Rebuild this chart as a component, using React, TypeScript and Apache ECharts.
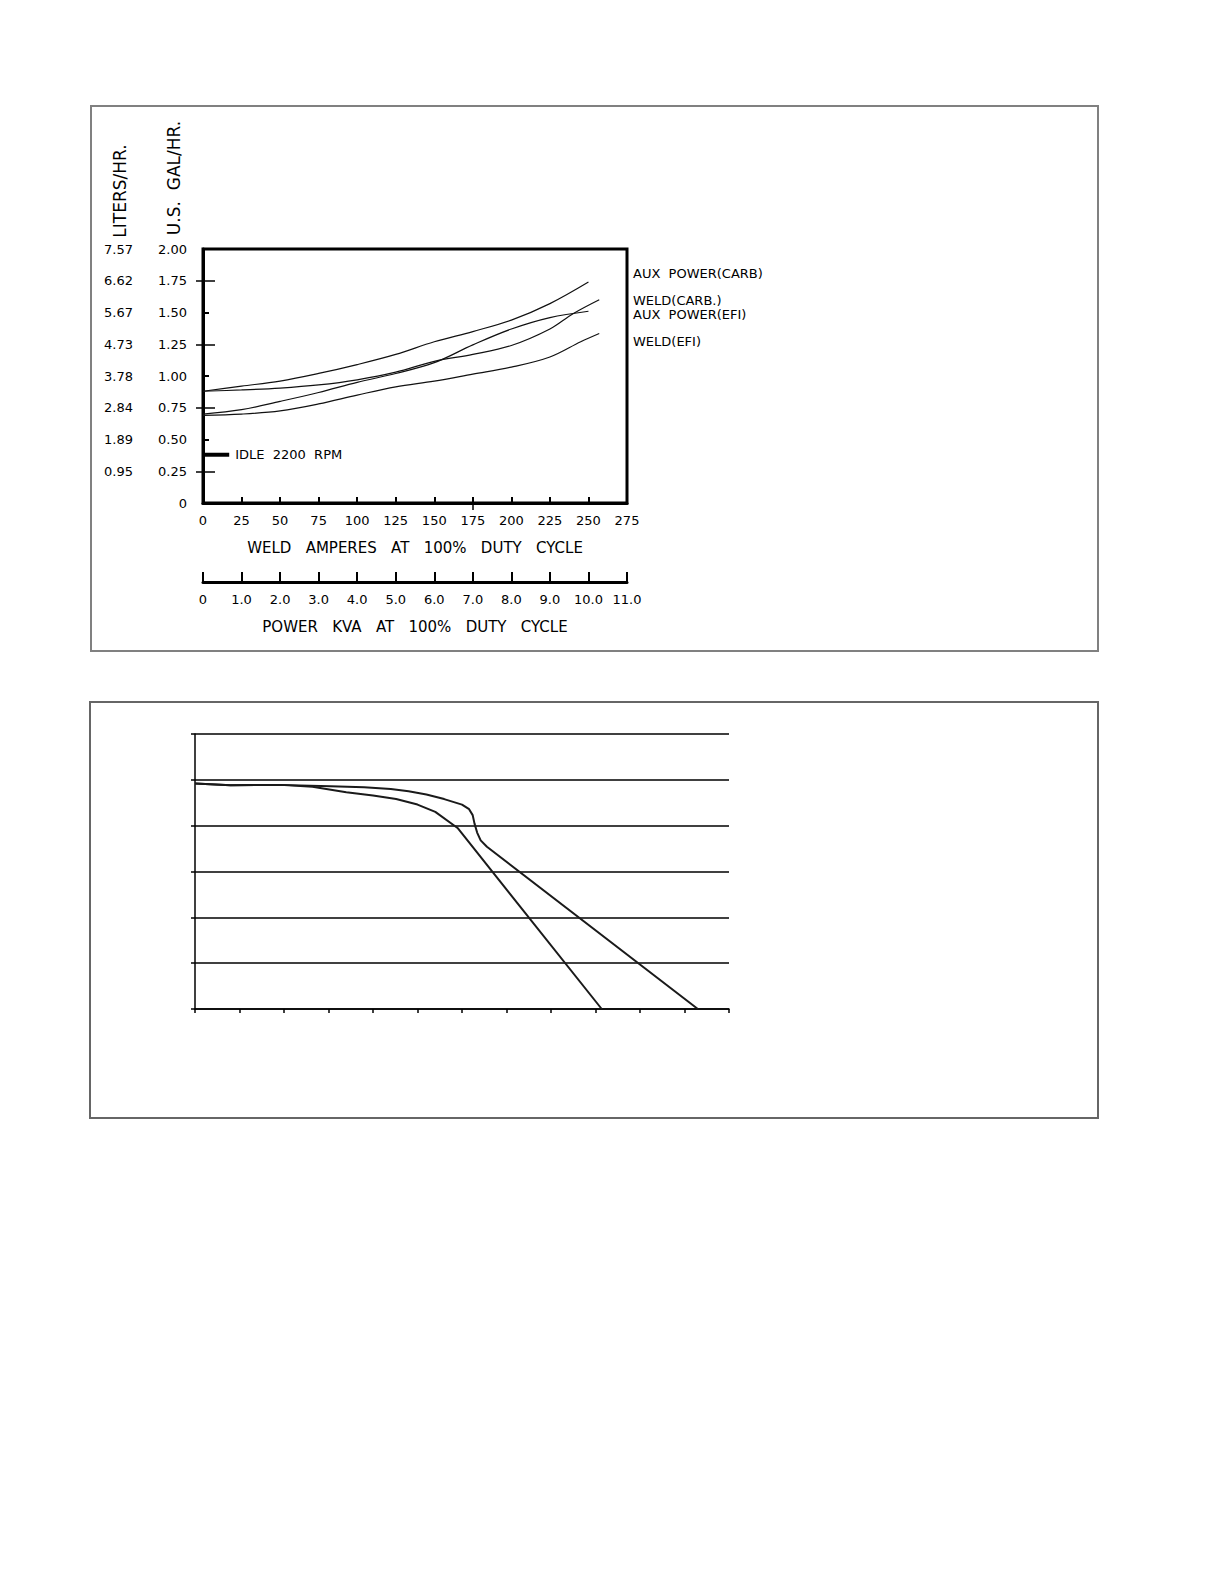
import * as echarts from "echarts";
import { useEffect, useRef } from "react";

const FONT = "'DejaVu Sans', sans-serif";
const GAP2 = "\u00a0\u00a0";
const GAP3 = "\u00a0\u00a0\u00a0";

// fuel consumption, US gal/hr against weld amperes
const auxCarbAmps = [0, 25, 50, 75, 100, 125, 150, 175, 200, 225, 250];
const auxCarbGal = [0.88, 0.92, 0.96, 1.02, 1.09, 1.17, 1.27, 1.35, 1.44, 1.57, 1.74];

const weldCarbAmps = [0, 25, 50, 75, 100, 125, 150, 175, 200, 225, 240, 257];
const weldCarbGal = [0.88, 0.89, 0.905, 0.93, 0.97, 1.03, 1.115, 1.17, 1.24, 1.37, 1.49, 1.6];

const auxEfiAmps = [0, 25, 50, 75, 100, 125, 150, 175, 200, 225, 250];
const auxEfiGal = [0.7, 0.735, 0.8, 0.87, 0.95, 1.02, 1.105, 1.245, 1.37, 1.46, 1.51];

const weldEfiAmps = [0, 25, 50, 75, 100, 125, 150, 175, 200, 225, 245, 257];
const weldEfiGal = [0.69, 0.7, 0.725, 0.78, 0.85, 0.915, 0.96, 1.015, 1.07, 1.15, 1.27, 1.335];

const idleAmps = [0, 17];
const idleGal = [0.38, 0.38];

const galTickLabels = ["0", "0.25", "0.50", "0.75", "1.00", "1.25", "1.50", "1.75", "2.00"];
const literTickLabels = ["", "0.95", "1.89", "2.84", "3.78", "4.73", "5.67", "6.62", "7.57"];
const kvaTickLabels = ["0", "1.0", "2.0", "3.0", "4.0", "5.0", "6.0", "7.0", "8.0", "9.0", "10.0", "11.0"];

const legendNames = ["AUX" + GAP2 + "POWER(CARB)", "WELD(CARB.)", "AUX" + GAP2 + "POWER(EFI)", "WELD(EFI)"];
const legendY = [273, 300, 314.5, 341.5];

// volt-amp curves of the lower panel (unlabelled axes)
const outerAmps = [0, 20, 48, 76, 95, 110, 120, 130, 140, 150, 154, 156, 157, 158.5, 160.5, 164, 282.5];
const outerVolts = [49.2, 48.8, 48.9, 48.6, 48.4, 48.0, 47.5, 46.8, 45.8, 44.6, 43.6, 42.3, 40.5, 38.5, 36.8, 35.4, 0];

const innerAmps = [0, 20, 48, 66, 85, 100, 113, 125, 135, 147.5, 228.5];
const innerVolts = [49.2, 48.8, 48.9, 48.5, 47.3, 46.6, 45.8, 44.6, 43.0, 39.5, 0];

const zip = (xs: number[], ys: number[]) => xs.map((x, i) => [x, ys[i]]);

export default function App() {
	const chartRef = useRef<HTMLDivElement>(null);

	useEffect(() => {
		if (!chartRef.current) return;
		const chart = echarts.init(chartRef.current, undefined, { renderer: "svg" });

		const text = (size: number) => ({ color: "#000", fontFamily: FONT, fontSize: size });
		const fuelLine = (name: string, xs: number[], ys: number[]) => ({
			name,
			type: "line",
			xAxisIndex: 0,
			yAxisIndex: 0,
			data: zip(xs, ys),
			smooth: 0.35,
			showSymbol: false,
			lineStyle: { color: "#111", width: 1.2 }
		});
		const vaLine = (xs: number[], ys: number[]) => ({
			type: "line",
			xAxisIndex: 3,
			yAxisIndex: 3,
			data: zip(xs, ys),
			showSymbol: false,
			lineStyle: { color: "#1a1a1a", width: 2 }
		});

		const option: echarts.EChartsOption = {
			animation: false,
			backgroundColor: "#fff",
			grid: [
				{ left: 203, top: 249, width: 424, height: 254, show: true, borderColor: "#000", borderWidth: 3 },
				{ left: 195, top: 734, width: 534, height: 275 }
			],
			xAxis: [
				{
					type: "value",
					gridIndex: 0,
					position: "bottom",
					min: 0,
					max: 275,
					interval: 25,
					axisLine: { onZero: false, lineStyle: { color: "#000", width: 3 } },
					axisTick: { inside: true, length: 6, lineStyle: { color: "#000", width: 2 } },
					axisLabel: { ...text(13), margin: 11 },
					splitLine: { show: false },
					name: ["WELD", "AMPERES", "AT", "100%", "DUTY", "CYCLE"].join(GAP3),
					nameLocation: "middle",
					nameGap: 37,
					nameTextStyle: text(15)
				},
				{
					type: "value",
					gridIndex: 0,
					position: "bottom",
					offset: 79,
					min: 0,
					max: 11,
					interval: 1,
					axisLine: { onZero: false, lineStyle: { color: "#000", width: 3 } },
					axisTick: { inside: true, length: 10, lineStyle: { color: "#000", width: 2 } },
					axisLabel: { ...text(13), margin: 11, formatter: (v: number) => kvaTickLabels[Math.round(v)] ?? "" },
					splitLine: { show: false },
					name: ["POWER", "KVA", "AT", "100%", "DUTY", "CYCLE"].join(GAP3),
					nameLocation: "middle",
					nameGap: 37,
					nameTextStyle: text(15)
				},
				{
					type: "value",
					gridIndex: 0,
					position: "bottom",
					min: 0,
					max: 275,
					interval: 25,
					axisLine: { show: false, onZero: false },
					axisTick: { length: 7, customValues: [175], lineStyle: { color: "#000", width: 1.5 } },
					axisLabel: { show: false },
					splitLine: { show: false }
				},
				{
					type: "value",
					gridIndex: 1,
					position: "bottom",
					min: 0,
					max: 300,
					interval: 25,
					axisLine: { onZero: false, lineStyle: { color: "#000", width: 1.5 } },
					axisTick: { length: 4, lineStyle: { color: "#000", width: 1.5 } },
					axisLabel: { show: false },
					splitLine: { show: false }
				}
			],
			yAxis: [
				{
					type: "value",
					gridIndex: 0,
					position: "left",
					min: 0,
					max: 2,
					interval: 0.25,
					axisLine: { show: true, lineStyle: { color: "#000", width: 3 } },
					axisTick: { show: true, inside: true, length: 6, customValues: [0.5, 1, 1.5], lineStyle: { color: "#000", width: 2 } },
					axisLabel: { ...text(13), margin: 16, formatter: (v: number) => galTickLabels[Math.round(v / 0.25)] ?? "" },
					splitLine: { show: false }
				},
				{
					type: "value",
					gridIndex: 0,
					position: "left",
					min: 0,
					max: 2,
					interval: 0.25,
					axisLine: { show: false },
					axisTick: { show: true, length: 7, customValues: [0.25, 0.75, 1.25, 1.75], lineStyle: { color: "#000", width: 1.5 } },
					axisLabel: { ...text(13), margin: 70, formatter: (v: number) => literTickLabels[Math.round(v / 0.25)] ?? "" },
					splitLine: { show: false }
				},
				{
					type: "value",
					gridIndex: 0,
					position: "left",
					min: 0,
					max: 2,
					interval: 0.25,
					axisLine: { show: false },
					axisTick: { show: true, inside: true, length: 12, customValues: [0.25, 0.75, 1.25, 1.75], lineStyle: { color: "#000", width: 1.5 } },
					axisLabel: { show: false },
					splitLine: { show: false }
				},
				{
					type: "value",
					gridIndex: 1,
					position: "left",
					min: 0,
					max: 60,
					interval: 10,
					axisLine: { show: true, lineStyle: { color: "#000", width: 1.5 } },
					axisTick: { show: true, length: 4, lineStyle: { color: "#000", width: 1.5 } },
					axisLabel: { show: false },
					splitLine: { show: true, lineStyle: { color: "#000", width: 1.5 } }
				}
			],
			series: [
				fuelLine(legendNames[0], auxCarbAmps, auxCarbGal),
				fuelLine(legendNames[1], weldCarbAmps, weldCarbGal),
				fuelLine(legendNames[2], auxEfiAmps, auxEfiGal),
				fuelLine(legendNames[3], weldEfiAmps, weldEfiGal),
				{
					name: "idle",
					type: "line",
					xAxisIndex: 0,
					yAxisIndex: 0,
					data: zip(idleAmps, idleGal),
					showSymbol: false,
					lineStyle: { color: "#000", width: 4 },
					endLabel: { show: true, formatter: ["IDLE", "2200", "RPM"].join(GAP2), distance: 6, ...text(13) }
				},
				vaLine(outerAmps, outerVolts),
				vaLine(innerAmps, innerVolts)
			],
			graphic: [
				{ type: "rect", shape: { x: 91, y: 106, width: 1007, height: 545 }, style: { fill: "none", stroke: "#808080", lineWidth: 2 }, silent: true },
				{ type: "rect", shape: { x: 90, y: 702, width: 1008, height: 416 }, style: { fill: "none", stroke: "#666", lineWidth: 2 }, silent: true },
				{
					type: "text",
					x: 120,
					y: 191,
					rotation: Math.PI / 2,
					style: { text: "LITERS/HR.", align: "center", verticalAlign: "middle", fill: "#000", font: `17px ${FONT}` }
				},
				{
					type: "text",
					x: 174,
					y: 178,
					rotation: Math.PI / 2,
					style: { text: "U.S." + GAP2 + "GAL/HR.", align: "center", verticalAlign: "middle", fill: "#000", font: `17px ${FONT}` }
				},
				...legendNames.map((name, i) => ({
					type: "text" as const,
					x: 633,
					y: legendY[i],
					style: { text: name, align: "left" as const, verticalAlign: "middle" as const, fill: "#000", font: `13px ${FONT}` }
				}))
			]
		};

		chart.setOption(option);
		return () => chart.dispose();
	}, []);

	return <div ref={chartRef} style={{ position: "absolute", left: 0, top: 0, width: 1224, height: 1584 }} />;
}
